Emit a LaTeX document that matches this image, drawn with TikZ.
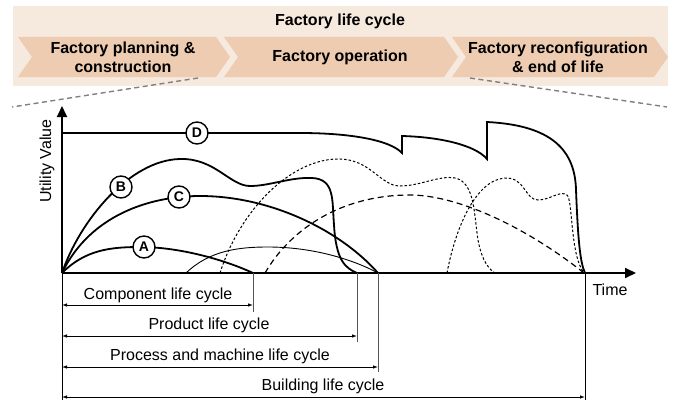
\documentclass[tikz,border=0pt]{standalone}
\usepackage{fontspec}
\setmainfont{Liberation Sans}
\usetikzlibrary{arrows.meta}
\definecolor{bannerbg}{RGB}{246,233,222}
\definecolor{chevfill}{RGB}{237,204,178}
\definecolor{zoomgray}{RGB}{128,128,128}
\definecolor{dimgray}{RGB}{85,85,85}
\tikzset{
  heading/.style={font=\fontsize{16}{19}\selectfont\bfseries, align=center, inner sep=0pt},
  label16/.style={font=\fontsize{16}{19}\selectfont, inner sep=0pt},
  chev/.style={fill=chevfill, draw=none},
  zoomline/.style={draw=zoomgray, line width=1.4pt, dash pattern=on 5pt off 3.5pt},
  axis/.style={line width=1.8pt, -{Triangle[length=11pt,width=10pt]}},
  main/.style={line width=1.8pt},
  thincurve/.style={line width=0.9pt},
  dotcurve/.style={line width=1pt, dash pattern=on 2.5pt off 2pt},
  dashcurve/.style={line width=1.2pt, dash pattern=on 6pt off 4pt},
  tag/.style={circle, draw, fill=white, line width=1.4pt, minimum size=22pt, inner sep=0pt,
              font=\fontsize{14}{16}\selectfont\bfseries},
  dimarrow/.style={line width=0.8pt, {Latex[length=5pt,width=3.5pt]}-{Latex[length=5pt,width=3.5pt]}},
  tick/.style={line width=1pt, draw=dimgray},
}
\begin{document}
\begin{tikzpicture}[x=1pt,y=-1pt]
\useasboundingbox (0,0) rectangle (676,404);

% phase banner
\fill[bannerbg] (13,6) rectangle (668,86);
\node[heading] (title) at (340,21) {Factory life cycle};
\fill[chev] (18,37) -- (216,37) -- (230,57) -- (216,77) -- (18,77) -- (32,57) -- cycle;
\fill[chev] (224,37) -- (444,37) -- (458,57) -- (444,77) -- (224,77) -- (238,57) -- cycle;
\fill[chev] (452,37) -- (654,37) -- (668,57) -- (654,77) -- (452,77) -- (466,57) -- cycle;
\node[heading] (p1) at (123,57) {Factory planning \&\\construction};
\node[heading] (p2) at (340,57) {Factory operation};
\node[heading] (p3) at (558,57) {Factory reconfiguration\\\& end of life};

% zoom lines towards the operation phase
\coordinate (zl1) at (198,78);
\coordinate (zl2) at (12,107);
\coordinate (zr1) at (470,78);
\coordinate (zr2) at (667,107);
\draw[zoomline] (zl1) -- (zl2);
\draw[zoomline] (zr1) -- (zr2);

% axes
\coordinate (O) at (62,273);
\coordinate (ytop) at (62,106);
\coordinate (xend) at (636,273);
\draw[axis] (O) -- (ytop);
\draw[axis] (O) -- (xend);
\node[label16, rotate=90] (ylab) at (47,161) {Utility Value};
\node[label16] (xlab) at (610,290) {Time};

% thin curve
\draw[thincurve] (186,273) .. controls (210,250) and (240,247) .. (268,247)
  .. controls (310,247) and (350,258) .. (378,273);

% dotted curves
\draw[dotcurve] (220,273) .. controls (240,210) and (290,160) .. (337,159)
  .. controls (370,158) and (380,186) .. (400,186)
  .. controls (420,186) and (440,175) .. (455,178)
  .. controls (475,182) and (474,215) .. (478,240)
  .. controls (482,262) and (490,270) .. (495,273);
\draw[dotcurve] (447,273) .. controls (455,230) and (475,180) .. (505,178)
  .. controls (525,177) and (525,200) .. (538,200)
  .. controls (550,200) and (560,190) .. (567,195)
  .. controls (573,200) and (570,255) .. (584,273);

% dashed curve
\draw[dashcurve] (265,273) .. controls (290,230) and (340,195) .. (410,195)
  .. controls (460,195) and (530,230) .. (584,273);

% curve A
\draw[main] (O) .. controls (85,250) and (110,247) .. (140,247)
  .. controls (180,247) and (225,260) .. (253,273);
% curve B
\draw[main] (O) .. controls (80,220) and (130,160) .. (180,159)
  .. controls (215,158) and (230,186) .. (250,186)
  .. controls (270,186) and (290,177) .. (312,178)
  .. controls (335,179) and (332,200) .. (334,225)
  .. controls (336,260) and (345,268) .. (357,273);
% curve C
\draw[main] (O) .. controls (90,215) and (150,196) .. (200,196)
  .. controls (270,196) and (340,230) .. (378,273);
% curve D
\draw[main] (62,133) -- (300,133) .. controls (350,133) and (390,140) .. (402,153)
  -- (402,136) .. controls (440,137) and (475,145) .. (487,159)
  -- (487,122) .. controls (545,125) and (575,145) .. (576,190)
  .. controls (578,240) and (580,262) .. (585,273);

\node[tag] (tA) at (144,247) {A};
\node[tag] (tB) at (121,187) {B};
\node[tag] (tC) at (179,197) {C};
\node[tag] (tD) at (197,133) {D};

% life cycle spans
\coordinate (l0) at (62,400);
\coordinate (e1a) at (253,273); \coordinate (e1b) at (253,312);
\coordinate (e2a) at (357,273); \coordinate (e2b) at (357,342);
\coordinate (e3a) at (378,273); \coordinate (e3b) at (378,372);
\coordinate (e4a) at (585,273); \coordinate (e4b) at (585,400);
\draw[line width=1pt] (O) -- (l0);
\draw[tick] (e1a) -- (e1b);
\draw[tick] (e2a) -- (e2b);
\draw[tick] (e3a) -- (e3b);
\draw[line width=1pt] (e4a) -- (e4b);

\coordinate (d1s) at (62,305); \coordinate (d1e) at (253,305);
\coordinate (d2s) at (62,336); \coordinate (d2e) at (357,336);
\coordinate (d3s) at (62,367); \coordinate (d3e) at (378,367);
\coordinate (d4s) at (62,397); \coordinate (d4e) at (585,397);
\draw[dimarrow] (d1s) -- (d1e);
\draw[dimarrow] (d2s) -- (d2e);
\draw[dimarrow] (d3s) -- (d3e);
\draw[dimarrow] (d4s) -- (d4e);
\node[label16] (n1) at (158,295) {Component life cycle};
\node[label16] (n2) at (209,325) {Product life cycle};
\node[label16] (n3) at (220,356) {Process and machine life cycle};
\node[label16] (n4) at (323,386) {Building life cycle};
\end{tikzpicture}
\end{document}
